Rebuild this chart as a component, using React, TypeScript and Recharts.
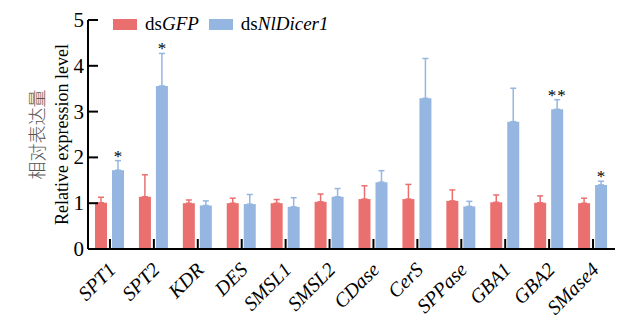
import { BarChart, Bar, XAxis, YAxis, ErrorBar, LabelList } from 'recharts';

const genes = ['SPT1', 'SPT2', 'KDR', 'DES', 'SMSL1', 'SMSL2', 'CDase', 'CerS', 'SPPase', 'GBA1', 'GBA2', 'SMase4'];
const gfpMean = [1.01, 1.14, 1.0, 1.0, 1.0, 1.03, 1.09, 1.09, 1.05, 1.02, 1.01, 1.0];
const gfpErr = [0.12, 0.48, 0.07, 0.11, 0.08, 0.17, 0.29, 0.32, 0.24, 0.16, 0.15, 0.11];
const dicerMean = [1.72, 3.56, 0.95, 0.98, 0.92, 1.14, 1.46, 3.29, 0.93, 2.78, 3.05, 1.4];
const dicerErr = [0.21, 0.71, 0.1, 0.21, 0.2, 0.18, 0.25, 0.87, 0.11, 0.73, 0.21, 0.08];
const signif = ['*', '*', '', '', '', '', '', '', '', '', '**', '*'];
const yTicks = [0, 1, 2, 3, 4, 5];

const RED = '#EA6F6F';
const BLUE = '#94B6E1';
const SERIF = 'Liberation Serif, Times New Roman, Times, serif';
const serif = { fontFamily: SERIF };

const data = genes.map((g, i) => ({
  gene: g,
  gfp: gfpMean[i],
  gfpE: [0, gfpErr[i]],
  dicer: dicerMean[i],
  dicerE: [0, dicerErr[i]],
  sig: signif[i],
}));

function XTick({ x, y, payload }: any) {
  const tx = x + 7;
  const ty = y + 22;
  return (
    <g>
      <line x1={x} y1={y} x2={x} y2={y - 10} stroke="#000" strokeWidth={2} />
      <text
        x={tx}
        y={ty}
        textAnchor="end"
        transform={`rotate(-45, ${tx}, ${ty})`}
        style={{ ...serif, fontStyle: 'italic', fontSize: 20 }}
        fill="#000"
      >
        {payload.value}
      </text>
    </g>
  );
}

function YTick({ x, y, payload }: any) {
  return (
    <g>
      <line x1={x} y1={y} x2={x + 10} y2={y} stroke="#000" strokeWidth={2} />
      <text x={x - 4} y={y + 7} textAnchor="end" style={{ ...serif, fontSize: 21 }} fill="#000">
        {payload.value}
      </text>
    </g>
  );
}

function YLabel({ viewBox }: any) {
  const cy = viewBox.y + viewBox.height / 2;
  return (
    <g>
      <text
        x={36}
        y={cy}
        textAnchor="middle"
        dominantBaseline="central"
        transform={`rotate(-90, 36, ${cy})`}
        style={{ fontFamily: 'Noto Sans CJK SC, sans-serif', fontWeight: 300, fontSize: 18 }}
        fill="#555"
      >
        相对表达量
      </text>
      <text
        x={62}
        y={cy}
        textAnchor="middle"
        dominantBaseline="central"
        transform={`rotate(-90, 62, ${cy})`}
        style={{ ...serif, fontSize: 18 }}
        fill="#000"
      >
        Relative expression level
      </text>
    </g>
  );
}

function Stars(props: any) {
  const { x, y, width, height, value, index } = props;
  if (!value) return null;
  const perUnit = height / dicerMean[index];
  const top = y - dicerErr[index] * perUnit;
  return (
    <text
      x={x + width / 2}
      y={top + 1}
      textAnchor="middle"
      style={{ ...serif, fontSize: 17, letterSpacing: value.length > 1 ? 1 : 0 }}
      fill="#000"
    >
      {value}
    </text>
  );
}

function LegendBox() {
  const items = [
    { color: RED, pre: 'ds', name: 'GFP' },
    { color: BLUE, pre: 'ds', name: 'NlDicer1' },
  ];
  return (
    <div
      style={{
        position: 'absolute',
        left: 113,
        top: 14,
        display: 'flex',
        alignItems: 'center',
        fontFamily: SERIF,
        fontSize: 19,
        lineHeight: '20px',
      }}
    >
      {items.map((it) => (
        <div key={it.name} style={{ display: 'flex', alignItems: 'center', marginRight: 10 }}>
          <span style={{ display: 'inline-block', width: 24, height: 11, background: it.color, marginRight: 8 }} />
          <span>
            {it.pre}
            <i>{it.name}</i>
          </span>
        </div>
      ))}
    </div>
  );
}

export default function App() {
  return (
    <div style={{ position: 'absolute', left: 0, top: 0, width: 629, height: 323, background: '#fff' }}>
      <BarChart
        width={629}
        height={323}
        data={data}
        margin={{ top: 20, right: 14, bottom: 0, left: 0 }}
        barSize={12}
        barGap={5}
      >
        <XAxis
          dataKey="gene"
          height={74}
          interval={0}
          tickLine={false}
          tickSize={0}
          tickMargin={0}
          axisLine={{ stroke: '#000', strokeWidth: 2 }}
          tick={<XTick />}
        />
        <YAxis
          width={88}
          domain={[0, 5]}
          ticks={yTicks}
          interval={0}
          tickLine={false}
          tickSize={0}
          tickMargin={0}
          axisLine={{ stroke: '#000', strokeWidth: 2 }}
          tick={<YTick />}
          label={<YLabel />}
        />
        <Bar dataKey="gfp" fill={RED} isAnimationActive={false}>
          <ErrorBar dataKey="gfpE" width={3} stroke={RED} strokeWidth={1.5} />
        </Bar>
        <Bar dataKey="dicer" fill={BLUE} isAnimationActive={false}>
          <ErrorBar dataKey="dicerE" width={3} stroke={BLUE} strokeWidth={1.5} />
          <LabelList dataKey="sig" content={<Stars />} />
        </Bar>
      </BarChart>
      <LegendBox />
    </div>
  );
}
